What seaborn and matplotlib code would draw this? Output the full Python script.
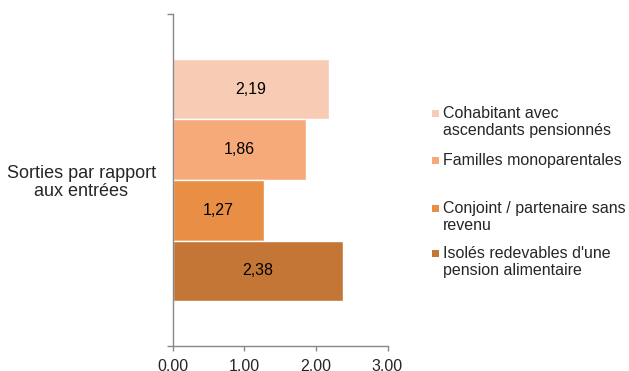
import matplotlib
matplotlib.use("Agg")
import matplotlib.pyplot as plt
from matplotlib.patches import Rectangle
from matplotlib.ticker import FormatStrFormatter
import seaborn as sns
import pandas as pd

# Chart data
category = "Sorties par rapport\naux entrées"
groups = [
    "Cohabitant avec\nascendants pensionnés",
    "Familles monoparentales",
    "Conjoint / partenaire sans\nrevenu",
    "Isolés redevables d'une\npension alimentaire",
]
values = [2.19, 1.86, 1.27, 2.38]
colors = ["#F8CBB4", "#F6AA7A", "#E88E45", "#C47636"]
x_ticks = [0, 1, 2, 3]

df = pd.DataFrame({"cat": [category] * len(groups), "grp": groups, "val": values})

sns.set_theme(style="white")
plt.rcParams["font.family"] = ["Liberation Sans", "DejaVu Sans"]
plt.rcParams["font.size"] = 11.5

W, H = 629, 371
fig = plt.figure(figsize=(W / 100, H / 100), dpi=100)
ax = fig.add_axes([172.5 / W, (H - 346) / H, (387.5 - 172.5) / W, (346 - 14) / H])

sns.barplot(
    data=df, x="val", y="cat", hue="grp", hue_order=groups,
    palette=colors, saturation=1, width=0.73, orient="h",
    errorbar=None, legend=False, ax=ax,
)

for cont, v in zip(ax.containers, values):
    ax.bar_label(cont, labels=[f"{v:.2f}".replace(".", ",")],
                 label_type="center", fontsize=11.5, color="black")

ax.set_xlim(0, 3)
ax.set_ylim(0.5, -0.5)
ax.set_xticks(x_ticks)
ax.xaxis.set_major_formatter(FormatStrFormatter("%.2f"))
ax.set_xlabel("")
ax.set_ylabel("")

# category label without a tick mark; ticks at category boundaries instead
ax.set_yticks([0])
ax.set_yticklabels([category])
ax.set_yticks([-0.5, 0.5], minor=True)
for lab in ax.get_yticklabels():
    lab.set_multialignment("center")
    lab.set_linespacing(1.1)
ax.tick_params(axis="y", which="major", length=0, pad=12, labelsize=13)
ax.tick_params(axis="y", which="minor", length=4, width=1, color="#888888", left=True)
ax.tick_params(axis="x", which="major", length=3.6, width=1, color="#888888",
               bottom=True, pad=6, labelsize=11.5)

for s in ["top", "right"]:
    ax.spines[s].set_visible(False)
for s in ["left", "bottom"]:
    ax.spines[s].set_color("#888888")
    ax.spines[s].set_linewidth(1)

# legend entries: square beside the first line of each entry
legend_y = [112, 159, 207, 252]
for name, col, yc in zip(groups, colors, legend_y):
    fig.patches.append(Rectangle((432 / W, (H - yc - 5) / H), 7 / W, 7 / H,
                                 transform=fig.transFigure, facecolor=col,
                                 edgecolor="none"))
    fig.text(443 / W, (H - yc + 6) / H, name, ha="left", va="top",
             fontsize=11.5, linespacing=1.15)

fig.savefig("out.png", dpi=100)
